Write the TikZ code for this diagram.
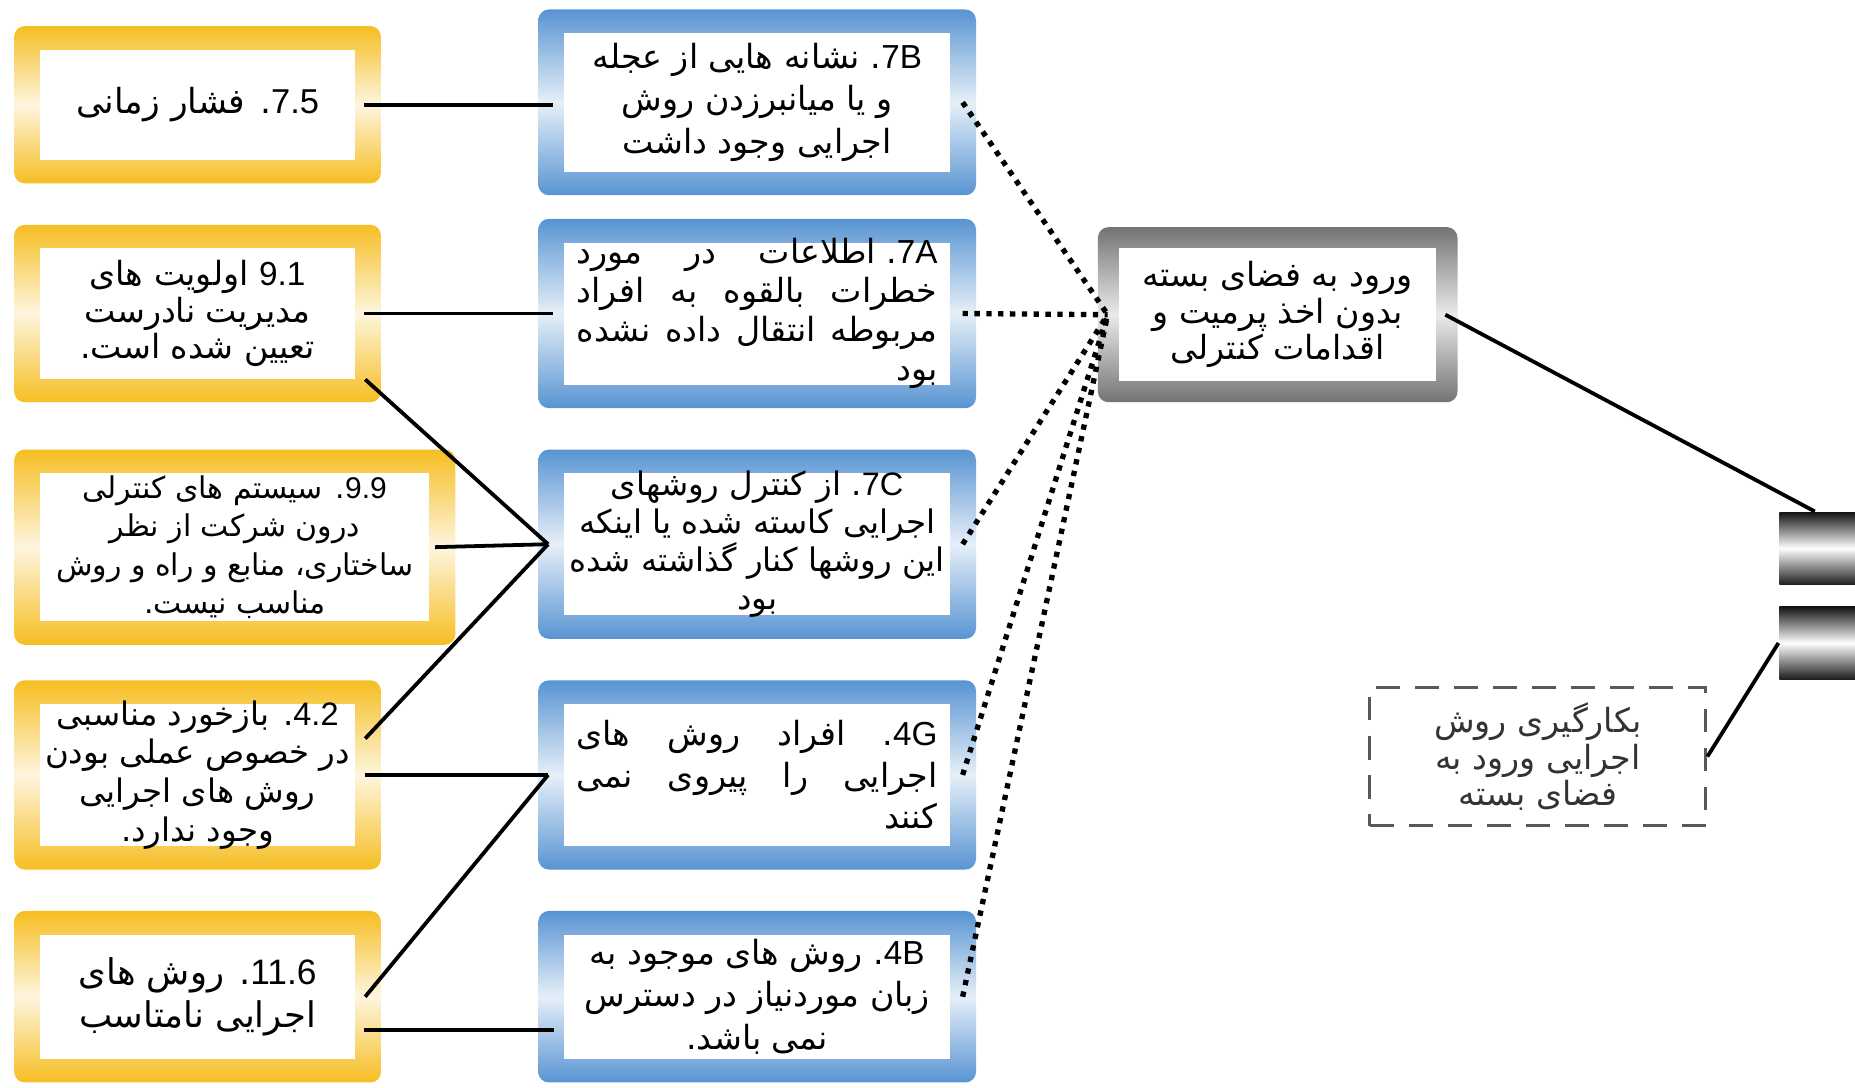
\documentclass[tikz,border=0pt]{standalone}
\usepackage{fontspec}
\usetikzlibrary{calc,fit}
\TeXXeTstate=1
\newfontfamily\fa[Script=Arabic]{DejaVu Sans}
\newfontfamily\lat{Liberation Sans}
\newcommand{\rl}[1]{\beginR #1\endR}
\newcommand{\nm}[1]{\beginL{\lat #1}\endL}
\newcommand{\jl}[1]{\leavevmode\hbox to 30.5mm{\beginR #1\endR}}
\newcommand{\jr}[1]{\leavevmode\hbox to 30.5mm{\hfill\beginR #1\endR}}
\newcommand{\tightls}{\lineskiplimit=-6pt\relax}
\definecolor{gold}{RGB}{246,190,34}
\definecolor{bluec}{RGB}{88,148,210}
\definecolor{grayc}{RGB}{115,115,115}
\newcommand{\fbx}[7]{%
  \shade[rounded corners=0.9mm, top color=#1, bottom color=#1, middle color=#1!15] (#3) rectangle (#4);
  \fill[white] ($(#3)+(#5)$) rectangle ($(#4)-(#5)$);
  \node[fit={($(#3)+(#5)$) ($(#4)-(#5)$)}, inner sep=0pt] (#2) {};
  \node[inner sep=0pt, align=center, font={\fa\fontsize#7\selectfont\tightls}] (#2-t) at (#2.center) {#6};
}
\begin{document}
\begin{tikzpicture}[x=0.1mm,y=-0.1mm,
  conn/.style={line width=0.32mm},
  dotc/.style={line width=0.45mm, dash pattern=on 0.45mm off 0.55mm},
  bar/.style={inner sep=0pt, top color=black!92, bottom color=black!88, middle color=white, minimum width=6.4mm, minimum height=6.1mm}]
\useasboundingbox (0,0) rectangle (1568,919);
\fill[white] (0,0) rectangle (1568,919);
% yellow boxes
\fbx{gold}{Y1}{12,22}{322,155}{22,20}{\rl{\nm{7.5}. فشار زمانی}}{{8.3}{10}}
\fbx{gold}{Y2}{12,190}{322,340}{22,20}{\rl{\nm{9.1} اولویت های}\\\rl{مدیریت نادرست}\\\rl{تعیین شده است.}}{{8}{8.8}}
\fbx{gold}{Y3}{12,380}{385,545}{22,20}{\rl{\nm{9.9}. سیستم های کنترلی}\\\rl{درون شرکت از نظر}\\\rl{ساختاری، منابع و راه و روش}\\\rl{مناسب نیست.}}{{7.2}{9.2}}
\fbx{gold}{Y4}{12,575}{322,735}{22,20}{\rl{\nm{4.2}. بازخورد مناسبی}\\\rl{در خصوص عملی بودن}\\\rl{روش های اجرایی}\\\rl{وجود ندارد.}}{{7.8}{9.3}}
\fbx{gold}{Y5}{12,770}{322,915}{22,20}{\rl{\nm{11.6}. روش های}\\\rl{اجرایی نامتاسب}}{{8.5}{10.5}}
% blue boxes
\fbx{bluec}{B1}{455,8}{825,165}{22,20}{\rl{\nm{7B}. نشانه هایی از عجله}\\\rl{و یا میانبرزدن روش}\\\rl{اجرایی وجود داشت}}{{8}{10.3}}
\fbx{bluec}{B2}{455,185}{825,345}{22,20}{\jl{\nm{7A}. اطلاعات\hfill در\hfill مورد}\\\jl{خطرات\hfill بالقوه\hfill به\hfill افراد}\\\jl{مربوطه\hfill انتقال\hfill داده\hfill نشده}\\\jr{بود}}{{8}{9.4}}
\fbx{bluec}{B3}{455,380}{825,540}{22,20}{\rl{\nm{7C}. از کنترل روشهای}\\\rl{اجرایی کاسته شده یا اینکه}\\\rl{این روشها کنار گذاشته شده}\\\rl{بود}}{{7.8}{9.2}}
\fbx{bluec}{B4}{455,575}{825,735}{22,20}{\jl{\nm{4G}.\hfill افراد\hfill روش\hfill های}\\\jl{اجرایی\hfill را\hfill پیروی\hfill نمی}\\\jr{کنند}}{{8}{10}}
\fbx{bluec}{B5}{455,770}{825,915}{22,20}{\rl{\nm{4B}. روش های موجود به}\\\rl{زبان موردنیاز در دسترس}\\\rl{نمی باشد.}}{{8}{10.3}}
% gray box
\fbx{grayc}{G}{928,192}{1232,340}{18,18}{\rl{ورود به فضای بسته}\\\rl{بدون اخذ پرمیت و}\\\rl{اقدامات کنترلی}}{{8}{8.8}}
% dashed box
\node[draw=black!65, line width=0.25mm, dash pattern=on 2mm off 1.3mm, minimum width=28.4mm, minimum height=11.7mm, align=center, font={\fa\fontsize{8}{8.8}\selectfont\tightls}, text=black!80] (D) at (1300,639.5) {\rl{بکارگیری روش}\\\rl{اجرایی ورود به}\\\rl{فضای بسته}};
% bars
\node[bar] (bar1) at (1536,463.5) {};
\node[bar] (bar2) at (1536,543.5) {};
% helper coordinates
\coordinate (c3) at ([xshift=-1.3mm]B3.west);
\coordinate (c4) at ([xshift=-1.3mm]B4.west);
\coordinate (cg) at ([xshift=-0.9mm]G.west);
% solid connectors
\draw[conn] ([xshift=0.7mm]Y1.east) -- ([xshift=-0.9mm]B1.west |- Y1.east);
\draw[conn] ([xshift=0.7mm]Y2.east) -- ([xshift=-0.9mm]B2.west);
\draw[conn] ([xshift=0.8mm]Y2.south east) -- (c3);
\draw[conn] ([xshift=0.4mm]Y3.east) -- (c3);
\draw[conn] ([xshift=0.8mm,yshift=-3mm]Y4.north east) -- (c3);
\draw[conn] ([xshift=0.8mm]Y4.east) -- (c4);
\draw[conn] ([xshift=0.8mm]Y5.east) -- (c4);
\draw[conn] ([xshift=0.7mm,yshift=-2.8mm]Y5.east) -- ([xshift=-0.8mm,yshift=-2.8mm]B5.west);
% dotted connectors
\draw[dotc] ([xshift=1mm]B1.east) -- (cg);
\draw[dotc] ([xshift=1mm]B2.east) -- (cg);
\draw[dotc] ([xshift=1mm]B3.east) -- (cg);
\draw[dotc] ([xshift=1mm]B4.east) -- (cg);
\draw[dotc] ([xshift=1mm]B5.east) -- (cg);
% right connectors
\draw[conn] ([xshift=0.7mm]G.east) -- ([xshift=-0.2mm]bar1.north);
\draw[conn] (D.east) -- (bar2.west);
\end{tikzpicture}
\end{document}
